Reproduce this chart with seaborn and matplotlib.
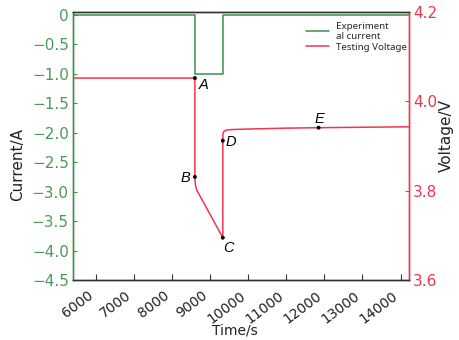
import numpy as np
import pandas as pd
import matplotlib
matplotlib.use("Agg")
import matplotlib.pyplot as plt
import matplotlib.transforms as mtransforms
import seaborn as sns

# data
current_time = [5400, 8600, 8600, 9333, 9333, 14220]
current_amp = [0.0, 0.0, -1.0, -1.0, 0.0, 0.0]

volt_time = [5400, 8600, 8600, 8610, 8645, 8980, 9333, 9333, 9336, 9350,
             9380, 9450, 9600, 10000, 10500, 11000, 11847, 13000, 14220]
volt_value = [4.052, 4.052, 3.831, 3.815, 3.802, 3.750, 3.695, 3.912, 3.926, 3.931,
              3.934, 3.936, 3.937, 3.938, 3.939, 3.940, 3.941, 3.942, 3.943]

point_names = ["A", "B", "C", "D", "E"]
point_time = [8600, 8600, 9333, 9333, 11847]
point_volt = [4.052, 3.831, 3.695, 3.912, 3.941]

x_ticks = [6000, 7000, 8000, 9000, 10000, 11000, 12000, 13000, 14000]
y_left_ticks = [0, -0.5, -1.0, -1.5, -2.0, -2.5, -3.0, -3.5, -4.0, -4.5]
y_left_labels = ["0", "\u22120.5", "\u22121.0", "\u22121.5", "\u22122.0", "\u22122.5",
                 "\u22123.0", "\u22123.5", "\u22124.0", "\u22124.5"]
y_right_ticks = [3.6, 3.8, 4.0, 4.2]

green = "#3f8f4a"
green_txt = "#4a9a58"
red = "#f2344f"
dark = "#333333"
legend_font = ["Noto Sans", "DejaVu Sans"]

sns.set_style("ticks")
plt.rcParams["font.family"] = ["DejaVu Sans"]

fig = plt.figure(figsize=(4.59, 3.40), dpi=100)
ax = fig.add_axes([0.159, 0.176, 0.732, 0.789])
ax2 = ax.twinx()

cur_df = pd.DataFrame({"t": current_time, "i": current_amp})
volt_df = pd.DataFrame({"t": volt_time, "v": volt_value})
pts_df = pd.DataFrame({"t": point_time, "v": point_volt, "name": point_names})

sns.lineplot(data=cur_df, x="t", y="i", ax=ax, color=green, lw=1.1,
             sort=False, estimator=None, label="Experiment\nal current", legend=False)
sns.lineplot(data=volt_df, x="t", y="v", ax=ax2, color=red, lw=1.1,
             sort=False, estimator=None, label="Testing Voltage", legend=False)
sns.scatterplot(data=pts_df, x="t", y="v", ax=ax2, color="black", s=8,
                edgecolor="none", zorder=5, legend=False)

offsets = {"A": (3, -8), "B": (-10, -3.6), "C": (0.3, -10), "D": (2.2, -3.6), "E": (-2.9, 3.6)}
for name, t, v in zip(point_names, point_time, point_volt):
    ax2.annotate(name, (t, v), xytext=offsets[name], textcoords="offset points",
                 fontsize=10.5, style="italic", color="black", family="Liberation Sans")

ax.set_xlim(5400, 14220)
ax.set_ylim(-4.5, 0.05)
ax2.set_ylim(3.6, 4.2)

ax.set_xticks(x_ticks)
ax.set_xticklabels([str(t) for t in x_ticks], rotation=37, ha="right",
                   fontsize=10, color="#222222")
shift = mtransforms.ScaledTranslation(7 / 100, 0, fig.dpi_scale_trans)
for lab in ax.get_xticklabels():
    lab.set_transform(lab.get_transform() + shift)
ax.set_yticks(y_left_ticks)
ax.set_yticklabels(y_left_labels, fontsize=11, color=green_txt)
ax2.set_yticks(y_right_ticks)
ax2.set_yticklabels([f"{v:.1f}" for v in y_right_ticks], fontsize=11, color=red)

ax.tick_params(axis="x", direction="in", length=4, color=dark, pad=6)
ax.tick_params(axis="y", direction="in", length=3, color=green, pad=3)
ax2.tick_params(axis="y", direction="in", length=3, color=red, pad=3)

ax.set_xlabel("Time/s", fontsize=10, color="#222222")
ax.set_ylabel("Current/A", fontsize=11, color="#222222")
ax2.set_ylabel("Voltage/V", fontsize=11, color="#222222")
ax.xaxis.set_label_coords(0.482, -0.16)
ax.xaxis.label.set_va("top")
ax.yaxis.set_label_coords(-0.143, 0.43)
ax2.yaxis.set_label_coords(1.09, 0.541)

for a in (ax, ax2):
    a.spines["top"].set_color(dark)
    a.spines["bottom"].set_color(dark)
    a.spines["left"].set_color(green)
    a.spines["right"].set_color(red)
    for s in a.spines.values():
        s.set_linewidth(1.0)

h1, l1 = ax.get_legend_handles_labels()
h2, l2 = ax2.get_legend_handles_labels()
fig.legend(h1 + h2, l1 + l2, loc="upper left", bbox_to_anchor=(0.648, 0.962),
           frameon=False, handlelength=2.3, labelspacing=0.15, handletextpad=0.75,
           prop={"family": legend_font, "size": 7})

fig.savefig("out.png", dpi=100)
